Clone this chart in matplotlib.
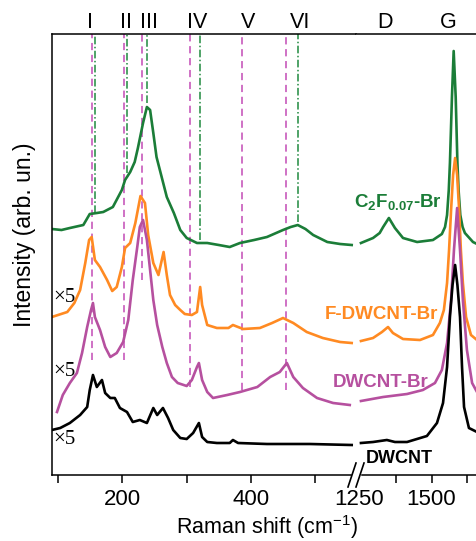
import matplotlib
matplotlib.use("Agg")
import matplotlib.pyplot as plt
from matplotlib.lines import Line2D

plt.rcParams['font.family'] = ['Liberation Sans', 'DejaVu Sans']
plt.rcParams['mathtext.fontset'] = 'custom'
plt.rcParams['mathtext.rm'] = 'Liberation Sans'
plt.rcParams['mathtext.bf'] = 'Liberation Sans:bold'
plt.rcParams['mathtext.default'] = 'regular'

# --- spectra (Raman shift cm-1, intensity arb.) ---
green_lo_x = [90, 105, 118, 139, 149, 160, 170, 185, 199, 204, 212, 219, 224, 232, 238, 243,
              248, 253, 261, 269, 280, 290, 300, 316, 332, 350, 367, 383, 405, 425, 450, 462,
              473, 485, 497, 519, 539, 557]
green_lo_y = [246, 245, 247, 250, 261, 262, 263, 268, 285, 295, 303, 313, 327, 352, 368, 365,
              342, 318, 298, 278, 262, 245, 237, 232, 232, 230, 228, 232, 235, 238, 245, 248,
              250, 246, 240, 233, 231, 230]
green_hi_x = [1255, 1297, 1320, 1332, 1352, 1373, 1401, 1450, 1505, 1536, 1547, 1554, 1560,
              1564, 1571, 1577, 1584, 1590, 1594, 1600, 1608, 1616, 1644, 1658]
green_hi_y = [232, 237, 242, 248, 257, 247, 237, 233, 235, 241, 248, 260, 285,
              312, 378, 424, 378, 312, 285, 260, 248, 242, 233, 231]

orange_lo_x = [90, 114, 125, 134, 142, 148, 152, 157, 165, 176, 184, 191, 199, 204, 212, 220,
               228, 235, 240, 248, 256, 264, 269, 274, 282, 290, 297, 308, 316, 321, 324, 332,
               347, 365, 372, 388, 414, 433, 450, 466, 487, 512, 539, 557]
orange_lo_y = [158, 163, 172, 185, 212, 235, 238, 215, 208, 195, 184, 188, 208, 227, 232, 252,
               279, 272, 240, 212, 200, 223, 200, 180, 170, 165, 161, 160, 163, 188, 170, 150,
               147, 147, 150, 146, 147, 152, 157, 152, 143, 137, 133, 132]
orange_hi_x = [1255, 1297, 1328, 1349, 1366, 1401, 1460, 1505, 1529, 1543, 1554, 1561, 1568,
               1575, 1582, 1589, 1596, 1602, 1609, 1620, 1637, 1658]
orange_hi_y = [134, 137, 143, 148, 142, 136, 135, 140, 152, 165, 192, 225, 265,
               300, 317, 300, 265, 225, 192, 158, 140, 135]

magenta_lo_x = [98, 107, 118, 129, 137, 145, 151, 154, 157, 165, 173, 181, 191, 201, 209, 216,
                223, 227, 232, 238, 243, 248, 254, 262, 269, 277, 286, 300, 308, 316, 319, 324,
                332, 341, 363, 383, 410, 430, 445, 456, 466, 481, 503, 528, 554]
magenta_lo_y = [63, 80, 92, 102, 122, 148, 165, 172, 158, 145, 128, 118, 122, 133, 155, 195,
                228, 248, 255, 235, 205, 175, 150, 128, 112, 98, 92, 89, 95, 108, 112, 95,
                83, 77, 80, 83, 88, 98, 103, 112, 98, 87, 77, 72, 70]
magenta_hi_x = [1255, 1332, 1415, 1470, 1512, 1536, 1554, 1568, 1578, 1589, 1599, 1609, 1623,
                1641, 1658]
magenta_hi_y = [74, 78, 81, 85, 92, 105, 132, 175, 225, 267, 225, 175, 125, 92, 83]

black_lo_x = [90, 103, 118, 134, 145, 149, 154, 160, 168, 173, 181, 188, 196, 207, 216, 227,
              238, 248, 254, 263, 271, 279, 290, 300, 310, 319, 324, 332, 347, 367, 372, 380,
              425, 492, 557]
black_lo_y = [45, 47, 52, 60, 68, 85, 100, 88, 95, 82, 77, 77, 67, 63, 53, 55,
              52, 67, 60, 67, 57, 45, 37, 36, 42, 52, 38, 33, 32, 32, 35, 32,
              31, 31, 30]
black_hi_x = [1255, 1297, 1345, 1373, 1415, 1484, 1519, 1540, 1554, 1564, 1573, 1582, 1590,
              1599, 1606, 1613, 1630, 1658]
black_hi_y = [32, 33, 35, 33, 33, 39, 52, 72, 108, 158, 190, 210, 190, 158, 108, 68, 47, 43]

# band markers
band_labels = ['I', 'II', 'III', 'IV', 'V', 'VI']
band_label_pos = [149, 205, 241, 316, 395, 476]
magenta_marks = [152, 202, 230, 305, 386, 455]
magenta_marks_low = [115, 115, 195, 88, 85, 85]
green_marks = [157, 206.5, 238.6, 320.7, 473]
green_marks_low = [262, 302, 372, 235, 253]
dg_labels = ['D', 'G']
dg_pos = [1340, 1559]

c_green = '#1b7d38'
c_orange = '#ff8a22'
c_magenta = '#b6509f'
c_mag_line = '#cc66c0'
c_green_line = '#1f8a3f'

fig = plt.figure(figsize=(4.77, 5.41), dpi=100)
ax = fig.add_axes([52 / 477, 66 / 541, 304 / 477, 441 / 541])
axr = fig.add_axes([356 / 477, 66 / 541, 121 / 477, 441 / 541])

ymax = 441
for a in (ax, axr):
    a.set_ylim(0, ymax)
    a.set_yticks([])
    a.spines['right'].set_visible(False)
    for s in ('top', 'bottom', 'left'):
        a.spines[s].set_linewidth(1.1)
    a.tick_params(axis='x', which='both', direction='out', length=6, width=1.1,
                  labelsize=16, pad=4)
axr.spines['left'].set_visible(False)

ax.set_xlim(90.2, 563.7)
axr.set_xlim(1237.8, 1658)
ax.set_xticks([200, 400])
ax.set_xticks([100, 300, 500], minor=True)
axr.set_xticks([1250, 1500])
axr.set_xticks([1375, 1625], minor=True)
axr.xaxis.get_major_ticks()[0].tick1line.set_visible(False)
ax.spines['bottom'].set_bounds(90.2, 556)
axr.spines['bottom'].set_bounds(1258, 1658)

# band guide lines
for x, lo in zip(magenta_marks, magenta_marks_low):
    ax.plot([x, x], [lo, ymax], color=c_mag_line, lw=1.3, dashes=(4, 2.6), zorder=1)
for x, lo in zip(green_marks, green_marks_low):
    ax.plot([x, x], [lo, ymax], color=c_green_line, lw=1.1, dashes=(5, 1.6, 1, 1.6), zorder=1)

lw = 1.9
ax.plot(green_lo_x, green_lo_y, color=c_green, lw=lw)
axr.plot(green_hi_x, green_hi_y, color=c_green, lw=lw)
ax.plot(orange_lo_x, orange_lo_y, color=c_orange, lw=lw)
axr.plot(orange_hi_x, orange_hi_y, color=c_orange, lw=lw)
ax.plot(magenta_lo_x, magenta_lo_y, color=c_magenta, lw=lw)
axr.plot(magenta_hi_x, magenta_hi_y, color=c_magenta, lw=lw)
ax.plot(black_lo_x, black_lo_y, color='black', lw=lw)
axr.plot(black_hi_x, black_hi_y, color='black', lw=lw)

# labels above the frame
for lab, x in zip(band_labels, band_label_pos):
    ax.text(x, 452, lab, ha='center', va='center', fontsize=15.5, clip_on=False)
for lab, x in zip(dg_labels, dg_pos):
    axr.text(x, 452, lab, ha='center', va='center', fontsize=15.5, clip_on=False)

# x5 multipliers
for yy in (178, 103, 35):
    ax.text(93, yy, '\u00d75', ha='left', va='center', fontsize=15,
            family=['Liberation Serif', 'DejaVu Serif'])

# curve names
axr.text(1535, 268, r'$\mathbf{C_{2}F_{0.07}}$-Br', color=c_green, fontsize=13.5,
         fontweight='bold', ha='right', va='baseline', clip_on=False)
axr.text(1522, 156, 'F-DWCNT-Br', color=c_orange, fontsize=13.5, fontweight='bold',
         ha='right', va='baseline', clip_on=False)
axr.text(1488, 88, 'DWCNT-Br', color=c_magenta, fontsize=13.5, fontweight='bold',
         ha='right', va='baseline', clip_on=False)
axr.text(1505, 12, 'DWCNT', color='black', fontsize=13, fontweight='bold',
         ha='right', va='baseline', clip_on=False)

# axis break marks
W, H = 477, 541
for x0 in (348, 356):
    fig.add_artist(Line2D([x0 / W, (x0 + 8) / W], [1 - 487 / H, 1 - 463 / H],
                          color='black', lw=1.2))

fig.text(25 / W, 1 - 235 / H, 'Intensity (arb. un.)', rotation=90, ha='center',
         va='center', fontsize=16.5)
fig.text(267 / W, 1 - 527 / H, r'Raman shift (cm$^{-1}$)', ha='center', va='center',
         fontsize=15.5)

fig.savefig('out.png', dpi=100)
